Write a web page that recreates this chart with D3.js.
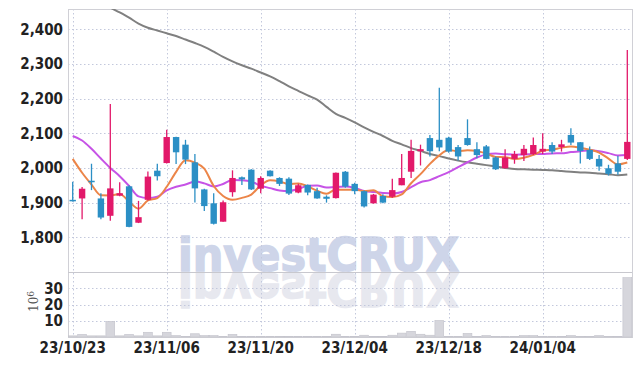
<!DOCTYPE html>
<html>
<head>
<meta charset="utf-8">
<script src="https://cdn.jsdelivr.net/npm/d3@7"></script>
<style>
  body { margin: 0; background: #fff; }
  text { font-family: "Liberation Sans Narrow", "DejaVu Sans Condensed", sans-serif; }
</style>
</head>
<body>
<div id="chart"></div>
<script>
const dates = ["23/10/23","23/10/24","23/10/25","23/10/26","23/10/27","23/10/30","23/10/31","23/11/01","23/11/02","23/11/03",
  "23/11/06","23/11/07","23/11/08","23/11/09","23/11/10","23/11/13","23/11/14","23/11/15","23/11/16","23/11/17",
  "23/11/20","23/11/21","23/11/22","23/11/23","23/11/24","23/11/27","23/11/28","23/11/29","23/11/30","23/12/01",
  "23/12/04","23/12/05","23/12/06","23/12/07","23/12/08","23/12/11","23/12/12","23/12/13","23/12/14","23/12/15",
  "23/12/18","23/12/19","23/12/20","23/12/21","23/12/22","23/12/26","23/12/27","23/12/28","24/01/02","24/01/03",
  "24/01/04","24/01/05","24/01/08","24/01/09","24/01/10","24/01/11","24/01/12","24/01/15","24/01/16","24/01/17"];

const opens = [1908,1912,1963,1912,1862,1920,1947,1842,1908,1992,2014,2089,2067,2016,1938,1898,1845,1930,1973,1995,
  1940,1992,1971,1969,1929,1951,1933,1917,1913,1989,1954,1933,1898,1919,1917,1950,1989,2048,2086,2081,
  2087,2060,2086,2054,2062,2030,1999,2026,2037,2040,2047,2066,2060,2095,2074,2052,2026,1999,2013,2026];
const highs = [1960,1945,2012,1927,2184,1959,1950,1905,1990,2012,2110,2090,2081,2040,1940,1927,1906,1993,1975,1996,
  1976,1993,1973,1973,1954,1952,1943,1921,1987,1991,1957,1935,1925,1924,1969,2040,2081,2067,2095,2231,
  2090,2066,2140,2074,2066,2033,2054,2049,2066,2088,2100,2074,2081,2114,2075,2062,2037,2009,2035,2340];
const lows = [1903,1852,1936,1852,1848,1918,1829,1841,1906,1964,2013,2011,2011,1900,1876,1837,1845,1917,1951,1936,
  1927,1975,1948,1922,1927,1921,1911,1900,1912,1943,1924,1886,1897,1898,1914,1950,1971,2007,2033,2048,
  2044,2021,2064,2028,2025,1994,1998,2012,2020,2037,2040,2040,2047,2066,2013,2023,1992,1978,1980,2023];
const closes = [1905,1940,1960,1857,1941,1927,1830,1858,1975,1976,2089,2045,2024,1941,1890,1839,1901,1971,1967,1938,
  1971,1976,1954,1926,1950,1929,1912,1911,1986,1946,1933,1889,1923,1900,1936,1971,2049,2054,2048,2059,
  2047,2033,2066,2037,2026,1996,2030,2040,2055,2066,2055,2047,2068,2073,2049,2026,2004,1983,1989,2075];

const ma5 = [2026,1986,1952,1921,1920.6,1925,1903,1882.6,1906.2,1913.2,1945.6,1988.6,2021.8,2015,1997.8,1947.8,1919,1908.4,1913.6,1923.2,
  1949.6,1964.6,1961.2,1953,1955.4,1947,1934.2,1925.6,1937.6,1936.8,1937.6,1933,1935.4,1918.2,1916.2,1923.8,1955.8,1982,2011.6,2036.2,
  2051.4,2048.2,2050.6,2048.4,2041.8,2031.6,2031,2025.8,2029.4,2037.4,2049.2,2052.6,2058.2,2061.8,2058.4,2052.6,2044,2027,2010.2,2015.4];
const ma10 = [2092,2079,2055,2027,2000,1976,1948,1918,1913,1916.9,1935.3,1945.8,1952.2,1960.6,1955.5,1946.7,1953.8,1965.1,1964.3,1960.5,
  1948.7,1941.8,1934.8,1933.3,1939.3,1948.3,1949.4,1943.4,1945.3,1946.1,1942.3,1933.6,1930.5,1927.9,1926.5,1930.7,1944.4,1958.7,1964.9,1976.2,
  1987.6,2002,2016.3,2030,2039,2041.5,2039.6,2038.2,2038.9,2039.6,2040.4,2041.8,2042,2045.6,2047.9,2050.9,2048.3,2042.6,2036,2036.9];
const maLong = [2526,2510,2494,2478,2462,2448,2433,2416,2404,2396,2388,2380,2370,2360,2349,2335,2320,2307,2296,2286,
  2275,2264,2250,2235,2222,2209,2197,2176,2156,2144,2131,2117,2104,2092,2078,2068,2057,2049,2040,2034,
  2027,2021,2016,2012,2008,2004,2000,1997,1996,1995,1994,1993,1991,1989,1987,1986,1984,1982,1979,1981];

// volume, millions
const volumes = [0.7,1.6,0.7,0.7,9.6,0.7,1.6,0.7,2.9,0.7,2.9,0.9,0.2,2.0,0.9,0.9,0.2,1.6,0.3,0.3,
  0.2,0.2,0.2,0.2,0.2,0.2,0.2,0.2,1.7,0.3,0.3,1.1,0.3,0.3,1.1,2.4,3.5,1.7,1.1,10.2,
  0.3,0.2,2.2,0.3,0.9,0.2,0.2,0.2,0.9,0.9,0.2,0.2,0.3,0.9,0.2,0.2,0.9,0.2,0.3,36.5];

const priceTicks = [1800,1900,2000,2100,2200,2300,2400];
const volTicks = [10,20,30];
const tickEvery = 10;

const W = 642, H = 366;
const pLeft = 68, pRight = 632, pTop = 9, pSplit = 272, pBottom = 337;

const svg = d3.select("#chart").append("svg")
    .attr("width", W)
    .attr("height", H);

const idx = d3.range(dates.length);
const x = d3.scaleBand().domain(idx).range([pLeft, pRight]).padding(0);
const cx = i => x(i) + x.bandwidth() / 2;
const y = d3.scaleLinear().domain([1700, 2458]).range([pSplit, pTop]);
const yv = d3.scaleLinear().domain([0, 40]).range([pBottom, pSplit]);

svg.append("clipPath").attr("id", "clipP")
  .append("rect").attr("x", pLeft).attr("y", pTop).attr("width", pRight - pLeft).attr("height", pSplit - pTop);

// watermark + reflection
const wm = svg.append("g")
    .style("font-family", "'Liberation Sans', Arial, sans-serif")
    .style("font-weight", "bold").style("font-size", "46px");
wm.append("text")
    .attr("x", 178).attr("y", 271)
    .attr("textLength", 281).attr("lengthAdjust", "spacingAndGlyphs")
    .attr("fill", "#ced5e9").attr("stroke", "#ced5e9").attr("stroke-width", 1.4)
    .text("investCRUX");
wm.append("text")
    .attr("x", 178).attr("y", -273)
    .attr("transform", "scale(1,-1)")
    .attr("textLength", 281).attr("lengthAdjust", "spacingAndGlyphs")
    .attr("fill", "#e7e8ef").attr("stroke", "#e7e8ef").attr("stroke-width", 1.4)
    .text("investCRUX");

// grid
const grid = svg.append("g").attr("stroke", "#c3c8dc").attr("stroke-width", 1).attr("stroke-dasharray", "1.5,2.5");
grid.selectAll(".gy").data(priceTicks).enter().append("line")
    .attr("x1", pLeft).attr("x2", pRight)
    .attr("y1", d => Math.round(y(d)) + 0.5).attr("y2", d => Math.round(y(d)) + 0.5);
grid.selectAll(".gv").data(volTicks).enter().append("line")
    .attr("x1", pLeft).attr("x2", pRight)
    .attr("y1", d => Math.round(yv(d)) + 0.5).attr("y2", d => Math.round(yv(d)) + 0.5);
const tickIdx = idx.filter(i => i % tickEvery === 0);
grid.selectAll(".gx").data(tickIdx).enter().append("line")
    .attr("x1", d => Math.round(cx(d)) + 0.5).attr("x2", d => Math.round(cx(d)) + 0.5)
    .attr("y1", pTop).attr("y2", pBottom);

// frame
svg.append("rect").attr("x", pLeft + 0.5).attr("y", pTop + 0.5)
    .attr("width", pRight - pLeft).attr("height", pBottom - pTop)
    .attr("fill", "none").attr("stroke", "#d0d0d6");
svg.append("line").attr("x1", pLeft).attr("x2", pRight).attr("y1", pSplit + 0.5).attr("y2", pSplit + 0.5)
    .attr("stroke", "#c8c8ce");

// volume bars
svg.append("g").selectAll("rect").data(idx).enter().append("rect")
    .attr("x", i => x(i) + 0.3)
    .attr("width", x.bandwidth() - 0.6)
    .attr("y", i => yv(volumes[i]))
    .attr("height", i => pBottom - yv(volumes[i]))
    .attr("fill", "#d6d6dc")
    .attr("stroke", "#c2c2ca").attr("stroke-width", 0.6);

// moving averages
const plot = svg.append("g").attr("clip-path", "url(#clipP)");
const line = d3.line().x((d, i) => cx(i)).y(d => y(d)).curve(d3.curveMonotoneX);
[[maLong, "#808080"], [ma10, "#c653e6"], [ma5, "#ec8548"]].forEach(([s, c]) => {
  plot.append("path").datum(s).attr("d", line)
      .attr("fill", "none").attr("stroke", c).attr("stroke-width", 2);
});

// candles
const up = "#e2196a", down = "#2b8fc5";
const bw = 6.4;
const cg = plot.append("g").selectAll("g").data(idx).enter().append("g");
cg.append("line")
    .attr("x1", i => cx(i)).attr("x2", i => cx(i))
    .attr("y1", i => y(highs[i])).attr("y2", i => y(lows[i]))
    .attr("stroke", i => closes[i] >= opens[i] ? up : down)
    .attr("stroke-width", 1.3);
cg.append("rect")
    .attr("x", i => cx(i) - bw / 2)
    .attr("width", bw)
    .attr("y", i => y(Math.max(opens[i], closes[i])))
    .attr("height", i => Math.max(1.5, Math.abs(y(opens[i]) - y(closes[i]))))
    .attr("fill", i => closes[i] >= opens[i] ? up : down);

// axes labels
const lab = svg.append("g").style("font-size", "15px").style("font-weight", "bold").attr("fill", "#222");
lab.selectAll(".ty").data(priceTicks).enter().append("text")
    .attr("x", 63).attr("y", d => y(d)).attr("dy", "0.36em")
    .attr("text-anchor", "end")
    .text(d => d3.format(",")(d));
lab.selectAll(".tv").data(volTicks).enter().append("text")
    .attr("x", 63).attr("y", d => yv(d)).attr("dy", "0.36em")
    .attr("text-anchor", "end")
    .text(d => d);
lab.selectAll(".tx").data(tickIdx).enter().append("text")
    .attr("x", d => cx(d)).attr("y", 353)
    .attr("text-anchor", "middle")
    .text(d => dates[d]);

const unit = svg.append("text")
    .attr("transform", "translate(38,312) rotate(-90)")
    .style("font-family", "'DejaVu Serif', serif")
    .style("font-size", "12px").attr("fill", "#555");
unit.append("tspan").text("10");
unit.append("tspan").attr("dy", "-0.45em").style("font-size", "9px").text("6");
</script>
</body>
</html>
